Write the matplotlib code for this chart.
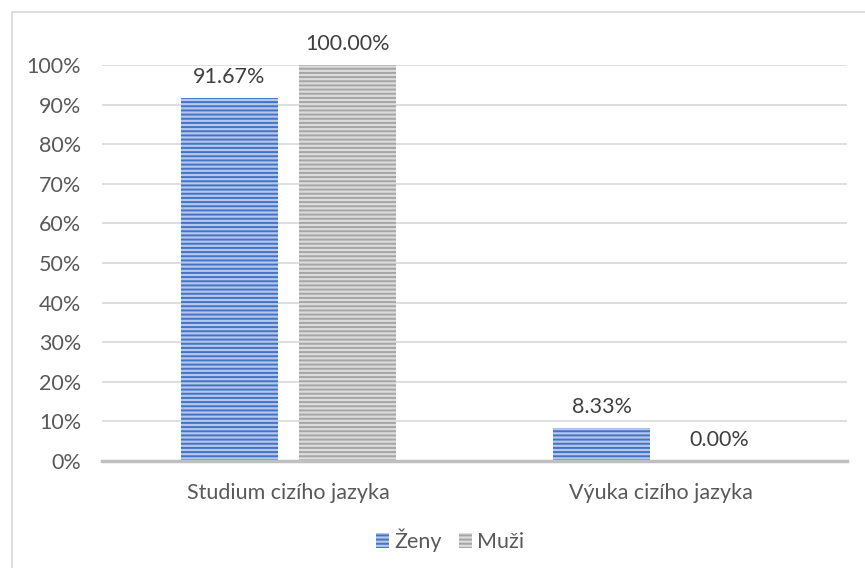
import matplotlib
matplotlib.use("Agg")
import matplotlib.pyplot as plt
from matplotlib.lines import Line2D
import numpy as np

categories = ["Studium cizího jazyka", "Výuka cizího jazyka"]
series_names = ["Ženy", "Muži"]
zeny = [91.67, 8.33]
muzi = [100.00, 0.00]
yticks = [0, 10, 20, 30, 40, 50, 60, 70, 80, 90, 100]

plt.rcParams['font.family'] = ['Lato', 'DejaVu Sans']
plt.rcParams['hatch.linewidth'] = 1.4

FS = 15.5
W, H = 865, 568
fig = plt.figure(figsize=(W / 100, H / 100), dpi=100)
ax = fig.add_axes([102 / W, (H - 461) / H, 745 / W, 396 / H])

x = np.arange(len(categories))
bw = 0.26
off = 0.158
b1 = ax.bar(x - off, zeny, bw, facecolor='#b4c7ec', edgecolor='#4472C4',
            hatch='----', linewidth=0, label=series_names[0], zorder=3)
b2 = ax.bar(x + off, muzi, bw, facecolor='#dcdcdc', edgecolor='#a5a5a5',
            hatch='----', linewidth=0, label=series_names[1], zorder=3)

txtc = '#404040'
for bars, vals in ((b1, zeny), (b2, muzi)):
    for rect, v in zip(bars, vals):
        ax.annotate(f"{v:.2f}%", (rect.get_x() + rect.get_width() / 2, v),
                    xytext=(0, 8), textcoords='offset points',
                    ha='center', va='bottom', fontsize=FS, color=txtc)

ax.set_xlim(-0.5, 1.5)
ax.set_ylim(0, 100)
ax.set_yticks(yticks)
ax.set_yticklabels([f"{t}%" for t in yticks])
ax.set_xticks(x)
ax.set_xticklabels(categories)
ax.tick_params(axis='both', length=0, labelsize=FS, labelcolor='#595959')
ax.tick_params(axis='y', pad=15)
ax.tick_params(axis='x', pad=16)
ax.grid(axis='y', color='#d9d9d9', linewidth=1.2, zorder=0)
ax.set_axisbelow(True)
for s in ['top', 'right', 'left']:
    ax.spines[s].set_visible(False)
ax.spines['bottom'].set_color('#bfbfbf')
ax.spines['bottom'].set_linewidth(2.5)
ax.spines['bottom'].set_zorder(4)

leg = fig.legend(handles=[b1, b2], labels=series_names, loc='center',
                 bbox_to_anchor=(450 / W, 1 - 540 / H), ncol=2, frameon=False,
                 fontsize=FS, handlelength=0.6, handleheight=0.7,
                 handletextpad=0.25, columnspacing=0.8, labelcolor='#595959')

# chart border (left and top visible)
fig.add_artist(Line2D([11.5 / W, 11.5 / W], [0, 1 - 11.5 / H], transform=fig.transFigure,
                      color='#d9d9d9', linewidth=1.2))
fig.add_artist(Line2D([11.5 / W, 1], [1 - 11.5 / H, 1 - 11.5 / H], transform=fig.transFigure,
                      color='#d9d9d9', linewidth=1.2))

fig.savefig("out.png", dpi=100)
